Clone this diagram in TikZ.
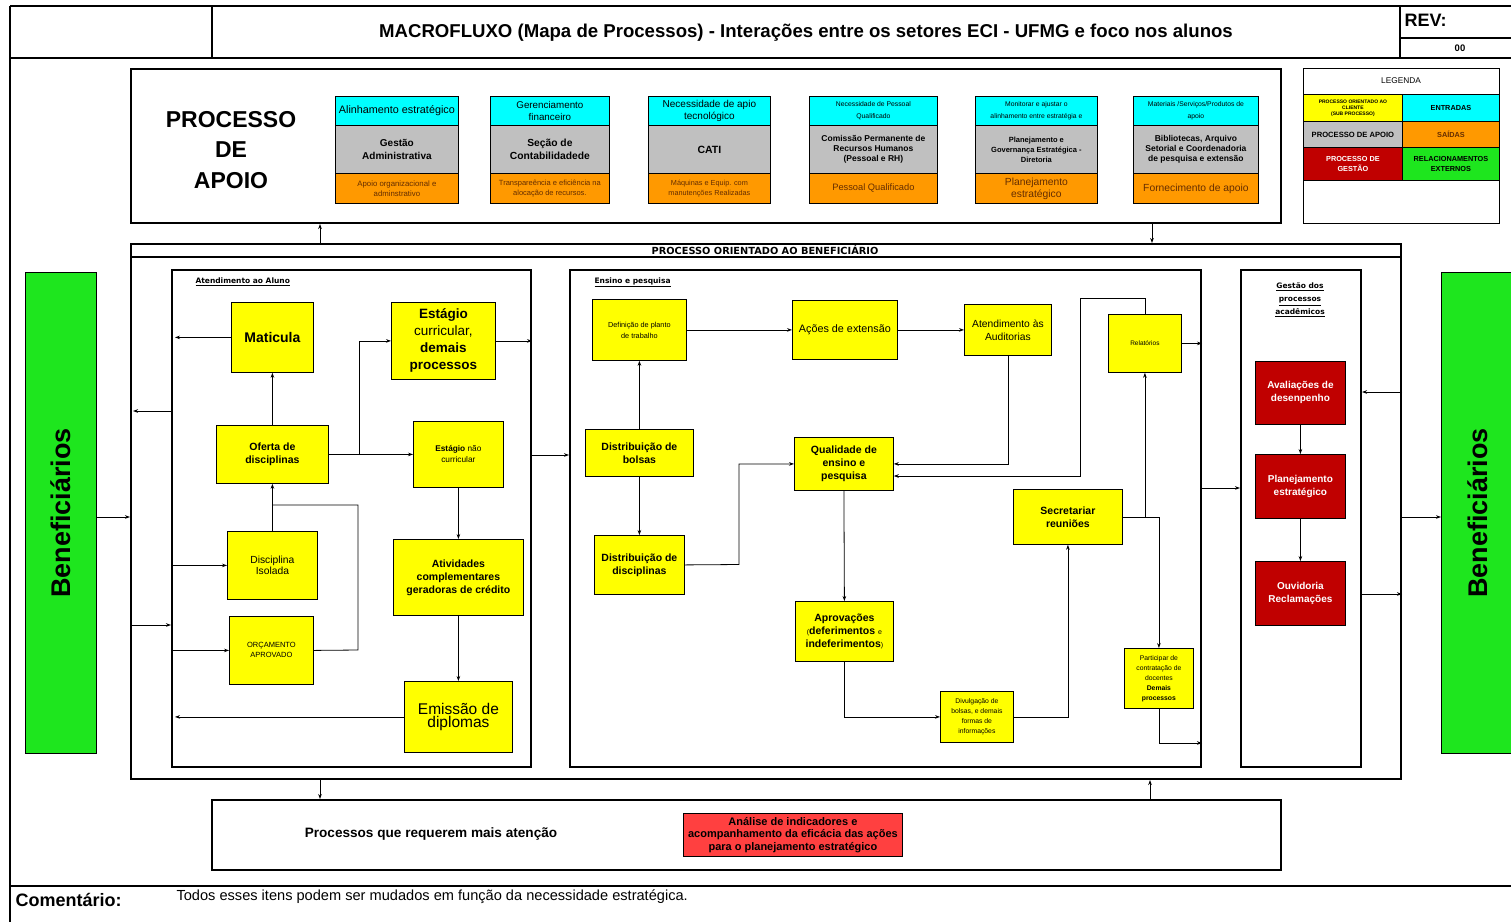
\documentclass[tikz,border=0pt]{standalone}
\usepackage{fontspec}
\setmainfont{Liberation Sans}
\newfontfamily\headfont{DejaVu Sans}
\usetikzlibrary{arrows.meta}

\definecolor{cyanF}{RGB}{0,255,255}
\definecolor{grayF}{RGB}{192,192,192}
\definecolor{orangeF}{RGB}{255,153,0}
\definecolor{yellowF}{RGB}{255,255,0}
\definecolor{gestF}{RGB}{192,0,0}
\definecolor{greenF}{RGB}{30,230,30}
\definecolor{redF}{RGB}{255,64,64}
\definecolor{brownT}{RGB}{100,45,0}

\newcommand{\fsz}[2]{\fontsize{#1pt}{#2pt}\selectfont}

\tikzset{
  box/.style={draw=black, line width=0.8pt, inner sep=1pt, align=center, anchor=north west},
  ybox/.style={box, fill=yellowF},
  rbox/.style={box, fill=gestF, text=white, font=\bfseries\fsz{10}{13}},
  frame/.style={draw=black, line width=2pt, anchor=north west, inner sep=0pt},
  arr/.style={-{Stealth[length=5pt,width=3.6pt]}, line width=0.8pt},
  lnk/.style={line width=0.8pt},
  rule/.style={line width=2pt},
  subtitle/.style={font=\headfont\bfseries\fsz{7.5}{10}},
}

\begin{document}
\begin{tikzpicture}[x=1pt,y=-1pt]
\useasboundingbox (0,0) rectangle (1511,922);
\fill[white] (0,0) rectangle (1511,922);

% ---------- page frame and header ----------
\draw[rule] (10,6) -- (1511,6);
\draw[rule] (10,6) -- (10,922);
\draw[rule] (10,58) -- (1511,58);
\draw[rule] (10,886) -- (1511,886);
\draw[line width=1.2pt] (212,6) -- (212,58);
\draw[line width=1.2pt] (1400,6) -- (1400,58);
\draw[line width=1.2pt] (1400,38) -- (1511,38);
\node[font=\bfseries\fsz{18.6}{20}] (title) at (806,33)
  {MACROFLUXO (Mapa de Processos) - Interações entre os setores ECI - UFMG e foco nos alunos};
\node[font=\bfseries\fsz{18}{20}, anchor=west] (rev) at (1401,20) {REV:};
\node[font=\bfseries\fsz{9.5}{10}] (revnum) at (1460,48) {00};

% ---------- support processes ----------
\node[frame, minimum width=1150pt, minimum height=154pt] (apoio) at (130,68) {};
\node[font=\bfseries\fsz{23}{30.5}, align=center] (apoiot) at (231,150) {PROCESSO\\DE\\APOIO};

% column 1
\node[box, fill=cyanF, minimum width=123pt, minimum height=29pt, font=\fsz{10.8}{12}] (in1) at (335,96) {Alinhamento estratégico};
\node[box, fill=grayF, minimum width=123pt, minimum height=48pt, font=\bfseries\fsz{10}{13}] (pr1) at (335,125) {Gestão\\Administrativa};
\node[box, fill=orangeF, minimum width=123pt, minimum height=30pt, font=\fsz{7.8}{10}, text=brownT] (out1) at (335,173) {Apoio organizacional e\\adminstrativo};
% column 2
\node[box, fill=cyanF, minimum width=119pt, minimum height=29pt, font=\fsz{9.8}{11.5}] (in2) at (490,96) {Gerenciamento\\financeiro};
\node[box, fill=grayF, minimum width=119pt, minimum height=48pt, font=\bfseries\fsz{10.3}{13}] (pr2) at (490,125) {Seção de\\Contabilidadede};
\node[box, fill=orangeF, minimum width=119pt, minimum height=30pt, font=\fsz{7.5}{10}, text=brownT] (out2) at (490,173) {Transpareência e eficiência na\\alocação de recursos.};
% column 3
\node[box, fill=cyanF, minimum width=122pt, minimum height=29pt, font=\fsz{10}{11.5}] (in3) at (648,96) {Necessidade de apio\\tecnológico};
\node[box, fill=grayF, minimum width=122pt, minimum height=48pt, font=\bfseries\fsz{10.5}{13}] (pr3) at (648,125) {CATI};
\node[box, fill=orangeF, minimum width=122pt, minimum height=30pt, font=\fsz{7.3}{10}, text=brownT] (out3) at (648,173) {Máquinas e Equip. com\\manutenções Realizadas};
% column 4
\node[box, fill=cyanF, minimum width=128pt, minimum height=29pt, font=\fsz{6.8}{12}] (in4) at (809,96) {Necessidade de Pessoal\\Qualificado};
\node[box, fill=grayF, minimum width=128pt, minimum height=48pt, font=\bfseries\fsz{8.5}{10}] (pr4) at (809,125) {Comissão Permanente de\\Recursos Humanos\\(Pessoal e RH)};
\node[box, fill=orangeF, minimum width=128pt, minimum height=30pt, font=\fsz{9.3}{11}, text=brownT] (out4) at (809,173) {Pessoal Qualificado};
% column 5
\node[box, fill=cyanF, minimum width=122pt, minimum height=29pt, font=\fsz{6.8}{12}] (in5) at (975,96) {Monitorar e ajustar o\\alinhamento entre estratégia e};
\node[box, fill=grayF, minimum width=122pt, minimum height=48pt, font=\bfseries\fsz{7.5}{10}] (pr5) at (975,125) {Planejamento e\\Governança Estratégica -\\Diretoria};
\node[box, fill=orangeF, minimum width=122pt, minimum height=30pt, font=\fsz{10.3}{12}, text=brownT] (out5) at (975,173) {Planejamento\\estratégico};
% column 6
\node[box, fill=cyanF, minimum width=125pt, minimum height=29pt, font=\fsz{6.8}{12}] (in6) at (1133,96) {Materiais /Serviços/Produtos de\\apoio};
\node[box, fill=grayF, minimum width=125pt, minimum height=48pt, font=\bfseries\fsz{8.5}{10}] (pr6) at (1133,125) {Bibliotecas, Arquivo\\Setorial e Coordenadoria\\de pesquisa e extensão};
\node[box, fill=orangeF, minimum width=125pt, minimum height=30pt, font=\fsz{10.3}{12}, text=brownT] (out6) at (1133,173) {Fornecimento de apoio};

% ---------- legend ----------
\node[box, fill=white, minimum width=196pt, minimum height=155pt] (leg) at (1303,68) {};
\node[font=\fsz{8.3}{10}] (legt) at (1401,81) {LEGENDA};
\node[box, fill=yellowF, minimum width=99pt, minimum height=27pt, font=\bfseries\fsz{5}{6}] (lg1) at (1303,94) {PROCESSO ORIENTADO AO\\CLIENTE\\(SUB PROCESSO)};
\node[box, fill=cyanF, minimum width=97pt, minimum height=27pt, font=\bfseries\fsz{7.3}{8.5}] (lg2) at (1402,94) {ENTRADAS};
\node[box, fill=grayF, minimum width=99pt, minimum height=26pt, font=\bfseries\fsz{7.6}{8.5}] (lg3) at (1303,121) {PROCESSO DE APOIO};
\node[box, fill=orangeF, minimum width=97pt, minimum height=26pt, font=\bfseries\fsz{7.3}{8.5}, text=brownT] (lg4) at (1402,121) {SAÍDAS};
\node[box, fill=gestF, minimum width=99pt, minimum height=33pt, font=\bfseries\fsz{7.3}{9.5}, text=white] (lg5) at (1303,147) {PROCESSO DE\\GESTÃO};
\node[box, fill=greenF, minimum width=97pt, minimum height=33pt, font=\bfseries\fsz{7.3}{9.5}] (lg6) at (1402,147) {RELACIONAMENTOS\\EXTERNOS};

% ---------- beneficiary oriented process ----------
\node[frame, minimum width=1270pt, minimum height=535pt] (main) at (130,243) {};
\draw[line width=1.6pt] (main.north west |- 0,257) -- (main.north east |- 0,257);
\node[font=\headfont\bfseries\fsz{9.8}{10}] (maint) at (765,250) {PROCESSO ORIENTADO AO BENEFICIÁRIO};

\node[box, fill=greenF, minimum width=71pt, minimum height=481pt, font=\bfseries\fsz{27}{30}] (benL) at (25,272) {\rotatebox{90}{Beneficiários}};
\node[box, fill=greenF, minimum width=72pt, minimum height=481pt, font=\bfseries\fsz{27}{30}] (benR) at (1441,272) {\rotatebox{90}{Beneficiários}};

\node[frame, minimum width=359pt, minimum height=497pt] (atend) at (171,269) {};
\node[frame, minimum width=631pt, minimum height=497pt] (ens) at (569,269) {};
\node[frame, minimum width=120pt, minimum height=497pt] (gest) at (1240,269) {};

\node[subtitle, anchor=west] (atendt) at (192,282) {\underline{Atendimento ao Aluno}};
\node[subtitle, anchor=west] (enst) at (591,282) {\underline{Ensino e pesquisa}};
\node[subtitle, align=center, font=\headfont\bfseries\fsz{7.5}{13}] (gestt) at (1300,300) {\underline{Gestão dos}\\\underline{processos}\\\underline{acadêmicos}};

% student service
\node[ybox, minimum width=82pt, minimum height=70pt, font=\bfseries\fsz{14}{15}] (mat) at (231,302) {Maticula};
\node[ybox, minimum width=104pt, minimum height=77pt, font=\fsz{13.5}{17}] (estc) at (391,302) {\textbf{Estágio}\\curricular,\\\textbf{demais}\\\textbf{processos}};
\node[ybox, minimum width=112pt, minimum height=58pt, font=\bfseries\fsz{10.5}{13}] (oferta) at (216,425) {Oferta de\\disciplinas};
\node[ybox, minimum width=90pt, minimum height=66pt, font=\fsz{8.3}{11}] (enc) at (413,421) {\textbf{Estágio} não\\curricular};
\node[ybox, minimum width=90pt, minimum height=68pt, font=\fsz{10.3}{9.5}] (disc) at (227,531) {Disciplina\\Isolada};
\node[ybox, minimum width=130pt, minimum height=76pt, font=\bfseries\fsz{10.5}{13}] (ativ) at (393,539) {Atividades\\complementares\\geradoras de crédito};
\node[ybox, minimum width=84pt, minimum height=68pt, font=\fsz{7.5}{10}] (orc) at (229,616) {ORÇAMENTO\\APROVADO};
\node[ybox, minimum width=108pt, minimum height=71pt, font=\fsz{15.5}{12.5}] (emis) at (404,681) {Emissão de\\diplomas};

% teaching and research
\node[ybox, minimum width=94pt, minimum height=61pt, font=\fsz{7.3}{11}] (def) at (592,299) {Definição de planto\\de trabalho};
\node[ybox, minimum width=105pt, minimum height=59pt, font=\fsz{10.8}{13}] (acoes) at (792,300) {Ações de extensão};
\node[ybox, minimum width=87pt, minimum height=51pt, font=\fsz{10.3}{13}] (aud) at (964,304) {Atendimento às\\Auditorias};
\node[ybox, minimum width=73pt, minimum height=58pt, font=\fsz{6.5}{8}] (rel) at (1108,314) {Relatórios};
\node[ybox, minimum width=108pt, minimum height=47pt, font=\bfseries\fsz{10.5}{13}] (db) at (585,429) {Distribuição de\\bolsas};
\node[ybox, minimum width=99pt, minimum height=53pt, font=\bfseries\fsz{10.5}{13}] (qual) at (794,437) {Qualidade de\\ensino e\\pesquisa};
\node[ybox, minimum width=109pt, minimum height=55pt, font=\bfseries\fsz{10.5}{13}] (sec) at (1013,489) {Secretariar\\reuniões};
\node[ybox, minimum width=90pt, minimum height=59pt, font=\bfseries\fsz{10.5}{13}] (dd) at (594,535) {Distribuição de\\disciplinas};
\node[ybox, minimum width=98pt, minimum height=60pt, font=\bfseries\fsz{10.5}{13}] (apr) at (795,601) {Aprovações\\{\mdseries\fsz{7}{13}(}deferimentos {\mdseries\fsz{7}{13}e}\\indeferimentos{\mdseries\fsz{7}{13})}};
\node[ybox, minimum width=73pt, minimum height=51pt, font=\fsz{6.8}{10}] (div) at (940,691) {Divulgação de\\bolsas, e demais\\formas de\\informações};
\node[ybox, minimum width=69pt, minimum height=60pt, font=\fsz{6.8}{10}] (part) at (1124,648) {Participar de\\contratação de\\docentes\\\textbf{Demais}\\\textbf{processos}};

% academic management
\node[rbox, minimum width=90pt, minimum height=63pt] (aval) at (1255,361) {Avaliações de\\desenpenho};
\node[rbox, minimum width=90pt, minimum height=64pt] (plan) at (1255,454) {Planejamento\\estratégico};
\node[rbox, minimum width=90pt, minimum height=64pt] (ouv) at (1255,561) {Ouvidoria\\Reclamações};

% ---------- bottom panel ----------
\node[frame, minimum width=1069pt, minimum height=70pt] (bot) at (211,799) {};
\node[font=\bfseries\fsz{13.6}{15}] (bott) at (431,834) {Processos que requerem mais atenção};
\node[box, fill=redF, minimum width=219pt, minimum height=43pt, font=\bfseries\fsz{11}{12.3}] (anal) at (683,813) {Análise de indicadores e\\acompanhamento da eficácia das ações\\para o planejamento estratégico};

% ---------- comment ----------
\node[font=\bfseries\fsz{18}{20}, anchor=west] (coml) at (12,900) {Comentário:};
\node[font=\fsz{14.6}{16}, anchor=west] (comt) at (173,897) {Todos esses itens podem ser mudados em função da necessidade estratégica.};

% ---------- connectors: support and bottom panel ----------
\draw[arr] (main.north -| 320,0) -- (apoio.south -| 320,0);
\draw[arr] (apoio.south -| 1152,0) -- (main.north -| 1152,0);
\draw[arr] (main.south -| 320,0) -- (bot.north -| 320,0);
\draw[arr] (bot.north -| 1150,0) -- (main.south -| 1150,0);

% ---------- connectors: beneficiaries ----------
\draw[arr] (benL.east |- 0,517) -- (main.west |- 0,517);
\draw[arr] (atend.west |- 0,411) -- ([xshift=3pt]main.west |- 0,411);
\draw[arr] (main.west |- 0,625) -- (atend.west |- 0,625);
\draw[arr] (main.east |- 0,517) -- (benR.west |- 0,517);
\draw[arr] (main.east |- 0,392) -- (gest.east |- 0,392);
\draw[arr] (gest.east |- 0,594) -- (main.east |- 0,594);
\draw[arr] (atend.east |- 0,455) -- (ens.west |- 0,455);
\draw[arr] (ens.east |- 0,488) -- (gest.west |- 0,488);

% ---------- connectors: student service ----------
\draw[arr] (mat.west) -- ([xshift=4pt]atend.west |- mat.west);
\draw[arr] (oferta.north) -- (mat.south);
\draw[arr] (oferta.east) -- (enc.west);
\coordinate (ofj) at (359,454);
\draw[arr] (ofj) |- (estc.west);
\draw[arr] (estc.east) -- (atend.east |- estc.east);
\draw[arr] (enc.south) -- (ativ.north);
\draw[arr] (ativ.south) -- (emis.north);
\draw[arr] (emis.west) -- ([xshift=4pt]atend.west |- emis.west);
\draw[arr] (disc.north) -- (oferta.south);
\coordinate (orj) at (272,505);
\draw[lnk] (orc.east) -- (358,650) |- (orj);
\draw[arr] (atend.west |- disc.west) -- (disc.west);
\draw[arr] (atend.west |- orc.west) -- (orc.west);

% ---------- connectors: teaching and research ----------
\draw[arr] (db.north) -- (def.south);
\draw[arr] (db.south) -- (dd.north);
\draw[arr] (def.east) -- (acoes.west);
\draw[arr] (acoes.east) -- (aud.west);
\draw[arr] (aud.south) |- (qual.east);
\draw[arr] (rel.north) |- (1080,298) -- (1080,476) -- (qual.east |- 0,476);
\draw[arr] (rel.east) -- (ens.east |- rel.east);
\draw[arr] (dd.east) -- (739,564.5) |- (qual.west);
\draw[arr] (qual.south) -- (apr.north);
\draw[arr] (apr.south) |- (div.west);
\draw[arr] (div.east) -| (sec.south);
\draw[arr] (sec.east) -| (part.north);
\draw[arr] (sec.east -| rel.south) -- (rel.south);
\draw[arr] (part.south) |- (ens.east |- 0,743);

% ---------- connectors: academic management ----------
\draw[arr] (aval.south) -- (plan.north);
\draw[arr] (plan.south) -- (ouv.north);
\end{tikzpicture}
\end{document}
